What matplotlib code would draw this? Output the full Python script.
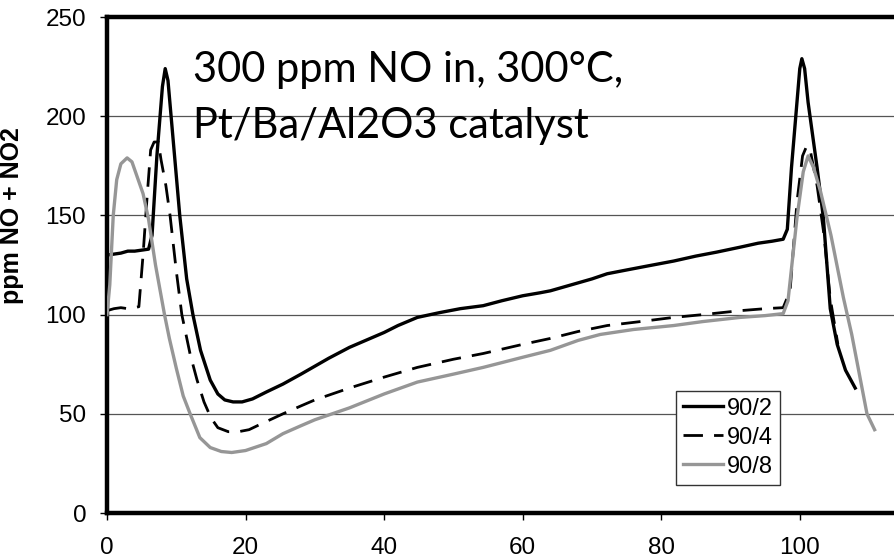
"""NOx storage/release traces for three lean/rich cycles."""

import matplotlib

matplotlib.use("Agg")

import matplotlib.pyplot as plt

# 90/2 cycle (solid black)
x_902 = [0, 1, 2, 3, 4, 5, 6, 6.5, 7.2, 8.0, 8.4, 8.8, 9.5, 10.5, 11.5, 12.4,
         13.5, 14.9, 16, 17, 18.2, 19.5, 21, 23, 25.4, 28, 30, 32, 35, 38, 40,
         42, 44.8, 48, 51, 54.3, 57, 60, 62.5, 64, 67, 70, 72.2, 75, 78, 81.8,
         85, 88, 91.4, 94, 96, 97.6, 98.2, 98.8, 99.4, 100.0, 100.3, 100.7,
         101.2, 102.5, 103.4, 104.4, 105.4, 106.6, 108]
y_902 = [130, 130.5, 131, 132, 132, 132.5, 133, 140, 180, 215, 224, 218, 190,
         150, 118, 100, 82, 67, 60, 57, 56, 56, 57.5, 61, 65, 70, 74, 78, 83.5,
         88, 91, 94.5, 98.6, 101, 103, 104.5, 107, 109.5, 111, 112, 115, 118,
         120.6, 122.5, 124.5, 127, 129.5, 131.5, 134, 136, 137, 138, 143, 174,
         199, 224, 229, 224, 207, 174, 149, 103, 85, 72, 63]

# 90/4 cycle (dashed black)
x_904 = [0, 1, 2, 3, 4, 4.6, 5.2, 5.8, 6.3, 6.8, 7.4, 7.8, 8.5, 9.1, 10, 10.8,
         12, 13, 14, 15, 16, 17.5, 19, 20.5, 22, 25.4, 28, 30, 35, 40, 44.8,
         50, 54.3, 60, 64, 68, 72.2, 77, 81.8, 86, 91.4, 95, 97.6, 98.6, 99.6,
         100.4, 101, 101.5, 102.5, 103.5, 104.4, 105.5]
y_904 = [102, 103, 103.5, 103, 103.5, 104, 130, 160, 183, 187, 187, 178, 165,
         150, 122, 100, 80, 67, 56, 48, 43, 41, 41, 42, 44.5, 50, 54, 57, 63,
         68.5, 73.4, 77.5, 80.4, 85, 88, 91.5, 94.5, 96.5, 98.6, 100, 102, 103,
         103.5, 112, 157, 180, 185, 183, 165, 140, 108, 85]

# 90/8 cycle (gray)
x_908 = [0, 0.4, 0.9, 1.4, 2, 2.9, 3.6, 4.3, 5.2, 6, 7, 8.3, 9, 10, 11, 12,
         13.4, 14.9, 16.5, 18, 20, 23, 25.4, 28, 30, 35, 40, 44.8, 50, 54.3,
         60, 64, 68, 71.2, 76, 81.8, 86, 91.4, 95, 97.6, 98.3, 99.6, 100.5,
         101.2, 102, 103, 104.5, 106.3, 107.5, 109.7, 110.8]
y_908 = [100, 115, 150, 168, 176, 179, 177, 170, 161, 148, 125, 100, 88, 73,
         59, 50, 38, 33, 31, 30.5, 31.5, 35, 40, 44, 47, 53, 60, 66, 70, 73.4,
         78.5, 82, 87, 90, 92.5, 94.5, 96.5, 98.6, 99.5, 100.5, 107, 149, 172,
         180, 174, 162, 140, 108.5, 90, 50, 42]

x_ticks = [0, 20, 40, 60, 80, 100]
y_ticks = [0, 50, 100, 150, 200, 250]

plt.rcParams["font.family"] = ["Liberation Sans", "DejaVu Sans"]

fig = plt.figure(figsize=(8.94, 5.6), dpi=100)
ax = fig.add_axes([0.1197, 0.0839, 0.8803, 0.8857])

ax.plot(x_902, y_902, color="black", lw=2.4, label="90/2", zorder=3)
ax.plot(x_904, y_904, color="black", lw=2.0, dashes=(7, 4), label="90/4", zorder=3)
ax.plot(x_908, y_908, color="#969696", lw=2.4, label="90/8", zorder=3)

ax.set_xlim(0, 113.6)
ax.set_ylim(0, 250)
ax.set_xticks(x_ticks)
ax.set_yticks(y_ticks)
ax.tick_params(labelsize=17.5, length=5, width=1, direction="out")
ax.tick_params(axis="x", pad=12)
ax.tick_params(axis="y", pad=10)

ax.yaxis.grid(True, color="#555555", lw=0.9)
ax.set_axisbelow(True)

for side in ("left", "bottom", "top"):
    ax.spines[side].set_linewidth(3.2)
ax.spines["right"].set_visible(False)

ax.set_ylabel("ppm NO + NO2", fontsize=18, fontweight="bold")
ax.yaxis.set_label_coords(-0.105, 0.6)

ax.text(0.109, 0.869, "300 ppm NO in, 300°C,", transform=ax.transAxes,
        fontsize=30, family=["Lato", "DejaVu Sans"], va="baseline")
ax.text(0.109, 0.756, "Pt/Ba/Al2O3 catalyst", transform=ax.transAxes,
        fontsize=30, family=["Lato", "DejaVu Sans"], va="baseline")

leg = ax.legend(loc="upper left", bbox_to_anchor=(0.723, 0.247), fontsize=17,
                frameon=True, fancybox=False, framealpha=1, edgecolor="#333333",
                handlelength=1.7, handletextpad=0.15, labelspacing=0.3,
                borderpad=0.3, borderaxespad=0)
leg.get_frame().set_linewidth(1.0)

fig.savefig("out.png", dpi=100)
